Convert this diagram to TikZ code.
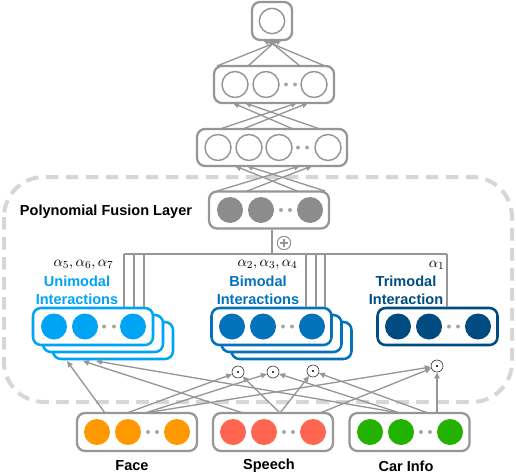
\documentclass[tikz,border=0pt]{standalone}
\usepackage{fontspec}
\setmainfont{Liberation Sans}
\usetikzlibrary{arrows.meta}

\definecolor{netgray}{RGB}{150,150,150}
\definecolor{fusegray}{RGB}{140,140,140}
\definecolor{dashgray}{RGB}{214,214,214}
\definecolor{unicol}{RGB}{0,164,245}
\definecolor{bicol}{RGB}{4,114,186}
\definecolor{tricol}{RGB}{0,76,128}
\definecolor{facecol}{RGB}{255,153,0}
\definecolor{speechcol}{RGB}{255,102,82}
\definecolor{carcol}{RGB}{36,178,0}

\tikzset{every picture/.style={line width=0.75pt},
  layer/.style={draw=netgray, line width=1.7pt, rounded corners=6pt, fill=white,
    minimum width=90pt, minimum height=27.75pt, inner sep=0pt},
  colayer/.style={layer, draw=#1, line width=1.9pt},
  unit/.style={circle, draw=netgray, line width=1.1pt, minimum size=19.5pt, inner sep=0pt},
  fillunit/.style={circle, fill=#1, minimum size=19.5pt, inner sep=0pt},
  ellip/.style={circle, fill=netgray!85, minimum size=3pt, inner sep=0pt},
  op/.style={circle, draw=black!80, line width=0.5pt, minimum size=9pt, inner sep=0pt, fill=white},
  conn/.style={draw=netgray, line width=1pt, -{Triangle[length=4.5pt,width=4pt]}},
  bus/.style={draw=netgray, line width=1.2pt},
  lbl/.style={font=\fontsize{10.9}{13.5}\selectfont\bfseries, align=center, inner sep=0pt},
  alph/.style={font=\fontsize{10.9}{13}\selectfont, anchor=east, inner sep=0pt}
}

\begin{document}
\begin{tikzpicture}[x=0.75pt,y=0.75pt,yscale=-1,xscale=1]
\useasboundingbox (0,0) rectangle (516,474);

%Fusion region
\draw[dashgray, line width=3pt, dash pattern=on 9.5pt off 5.5pt, rounded corners=30pt] (4,177) rectangle (512,402);

%Output layer
\node[layer, minimum width=30pt, minimum height=28.5pt] (out) at (272,21) {};
\node[unit, minimum size=19pt] (o1) at (272,21) {};

%Hidden layer 2
\node[layer] (h2) at (274,84.5) {};
\node[unit] (h2a) at (235,84.5) {};
\node[unit] (h2b) at (266,84.5) {};
\node[ellip] (h2e1) at (286,84.5) {};
\node[ellip] (h2e2) at (295,84.5) {};
\node[unit] (h2c) at (314,84.5) {};

%Hidden layer 1
\node[layer, minimum width=112.5pt] (h1) at (272,147.5) {};
\node[unit] (h1a) at (218,147.5) {};
\node[unit] (h1b) at (249,147.5) {};
\node[unit] (h1c) at (279,147.5) {};
\node[ellip] (h1e1) at (298,147.5) {};
\node[ellip] (h1e2) at (307,147.5) {};
\node[unit] (h1d) at (328,147.5) {};

%Fusion layer
\node[layer] (fuse) at (269,210) {};
\node[fillunit=fusegray] (fa) at (230,210) {};
\node[fillunit=fusegray] (fb) at (261,210) {};
\node[ellip] (fe1) at (281,210) {};
\node[ellip] (fe2) at (290,210) {};
\node[fillunit=fusegray] (fc) at (310,210) {};
\node[lbl] (fuselbl) at (106,212) {Polynomial Fusion Layer};

%Layer to layer arrows
\coordinate (t1) at (263,40);  \coordinate (t2) at (268,40);
\coordinate (t3) at (277,40);  \coordinate (t4) at (282,40);
\coordinate (p1) at (217,66);  \coordinate (p2) at (248,66);
\coordinate (p3) at (300,66);  \coordinate (p4) at (325,66);
\draw[conn] (p1) -- (t4);
\draw[conn] (p2) -- (t3);
\draw[conn] (p3) -- (t2);
\draw[conn] (p4) -- (t1);

\coordinate (q1) at (233,103); \coordinate (q2) at (245,103);
\coordinate (q3) at (297,103); \coordinate (q4) at (308,103);
\coordinate (r1) at (220,129); \coordinate (r2) at (243,129);
\coordinate (r3) at (293,129); \coordinate (r4) at (320,129);
\draw[conn] (r1) -- (q3);
\draw[conn] (r2) -- (q4);
\draw[conn] (r3) -- (q1);
\draw[conn] (r4) -- (q2);

\coordinate (s1) at (235,166); \coordinate (s2) at (247,166);
\coordinate (s3) at (300,166); \coordinate (s4) at (312,166);
\coordinate (v1) at (217,191); \coordinate (v2) at (247,191);
\coordinate (v3) at (297,191); \coordinate (v4) at (325,191);
\draw[conn] (v1) -- (s3);
\draw[conn] (v2) -- (s4);
\draw[conn] (v3) -- (s1);
\draw[conn] (v4) -- (s2);

%Unimodal stack
\node[colayer=unicol] (uni3) at (113,340.5) {};
\node[colayer=unicol] (uni2) at (103,333.5) {};
\node[colayer=unicol] (uni1) at (93,326.5) {};
\node[fillunit=unicol] (ua) at (54,326.5) {};
\node[fillunit=unicol] (ub) at (85,326.5) {};
\node[ellip] (ue1) at (104,326.5) {};
\node[ellip] (ue2) at (114,326.5) {};
\node[fillunit=unicol] (uc) at (133,326.5) {};

%Bimodal stack
\node[colayer=bicol] (bi3) at (291.5,340.5) {};
\node[colayer=bicol] (bi2) at (281.5,333.5) {};
\node[colayer=bicol] (bi1) at (271.5,326.5) {};
\node[fillunit=bicol] (ba) at (232,326.5) {};
\node[fillunit=bicol] (bb) at (263,326.5) {};
\node[ellip] (be1) at (283,326.5) {};
\node[ellip] (be2) at (292,326.5) {};
\node[fillunit=bicol] (bc) at (312,326.5) {};

%Trimodal
\node[colayer=tricol] (tri) at (437.5,326.5) {};
\node[fillunit=tricol] (ta) at (398,326.5) {};
\node[fillunit=tricol] (tb) at (429,326.5) {};
\node[ellip] (te1) at (449,326.5) {};
\node[ellip] (te2) at (458,326.5) {};
\node[fillunit=tricol] (tc) at (478,326.5) {};

%Labels
\node[alph] (a567) at (114,265) {$\alpha_5, \alpha_6, \alpha_7$};
\node[alph] (a234) at (298,265) {$\alpha_2, \alpha_3, \alpha_4$};
\node[alph] (a1) at (445,265) {$\alpha_1$};
\node[lbl, text=unicol] (unilbl) at (77,290) {Unimodal\\Interactions};
\node[lbl, text=bicol] (bilbl) at (258,290) {Bimodal\\Interactions};
\node[lbl, text=tricol] (trilbl) at (406,290) {Trimodal\\Interaction};

%Sum bus
\coordinate (junc) at (272,254);
\coordinate (bu1) at (124,254); \coordinate (bu2) at (134,254); \coordinate (bu3) at (144,254);
\coordinate (bb1) at (306,254); \coordinate (bb2) at (316,254); \coordinate (bb3) at (325,254);
\coordinate (bt) at (447,254);
\draw[bus] (junc |- fuse.south) -- (junc);
\draw[bus] (bu1) -- (bt);
\draw[bus] (bu1) -- (bu1 |- uni1.north);
\draw[bus] (bu2) -- (bu2 |- uni1.north);
\draw[bus] (bu3) -- (bu3 |- uni1.north);
\draw[bus] (bb1) -- (bb1 |- bi1.north);
\draw[bus] (bb2) -- (bb2 |- bi1.north);
\draw[bus] (bb3) -- (bb3 |- bi1.north);
\draw[bus] (bt) -- (bt |- tri.north);
\node[op, draw=netgray, line width=0.8pt, minimum size=10pt] (plus) at (284,243) {};
\draw[netgray, line width=0.8pt] ([xshift=-3pt]plus.center) -- ([xshift=3pt]plus.center);
\draw[netgray, line width=0.8pt] ([yshift=-3pt]plus.center) -- ([yshift=3pt]plus.center);

%Inputs
\node[layer, minimum height=28.5pt] (face) at (137,432) {};
\node[fillunit=facecol] (fca) at (97,432) {};
\node[fillunit=facecol] (fcb) at (128,432) {};
\node[ellip] (fce1) at (148,432) {};
\node[ellip] (fce2) at (157,432) {};
\node[fillunit=facecol] (fcc) at (177,432) {};

\node[layer, minimum height=28.5pt] (speech) at (273,432) {};
\node[fillunit=speechcol] (spa) at (233,432) {};
\node[fillunit=speechcol] (spb) at (264,432) {};
\node[ellip] (spe1) at (284,432) {};
\node[ellip] (spe2) at (293,432) {};
\node[fillunit=speechcol] (spc) at (313,432) {};

\node[layer, minimum height=28.5pt] (car) at (409.5,432) {};
\node[fillunit=carcol] (cra) at (370,432) {};
\node[fillunit=carcol] (crb) at (401,432) {};
\node[ellip] (cre1) at (421,432) {};
\node[ellip] (cre2) at (430,432) {};
\node[fillunit=carcol] (crc) at (450,432) {};

\node[lbl] (facelbl) at (132,466) {Face};
\node[lbl] (speechlbl) at (269,466) {Speech};
\node[lbl] (carlbl) at (406,466) {Car Info};

%Products
\node[op] (d1) at (238,372) {};
\node[op] (d2) at (273,372) {};
\node[op] (d3) at (313,371) {};
\node[op] (d4) at (437,366) {};
\fill (d1) circle (1.2);
\fill (d2) circle (1.2);
\fill (d3) circle (1.2);
\fill (d4) circle (1.2);

%Input arrows
\coordinate (ut1) at (67,361); \coordinate (ut2) at (83,361); \coordinate (ut3) at (96,361);
\coordinate (fo1) at (105,413); \coordinate (fo2) at (127,413); \coordinate (fo3) at (145,413);
\coordinate (so1) at (243,413); \coordinate (so2) at (280,413); \coordinate (so3) at (320,413);
\coordinate (co1) at (400,413); \coordinate (co2) at (428,413); \coordinate (co3) at (437,413);
\draw[conn] (fo1) -- (ut1);
\draw[conn] (fo2) -- (d1);
\draw[conn] (fo3) -- (d2);
\draw[conn] (fo3) -- (d4);
\draw[conn] (so1) -- (ut2);
\draw[conn] (so2) -- (d1);
\draw[conn] (so2) -- (d3);
\draw[conn] (so3) -- (d4);
\draw[conn] (co1) -- (ut3);
\draw[conn] (co1) -- (d2);
\draw[conn] (co2) -- (d3);
\draw[conn] (co3) -- (d4);

\end{tikzpicture}
\end{document}
